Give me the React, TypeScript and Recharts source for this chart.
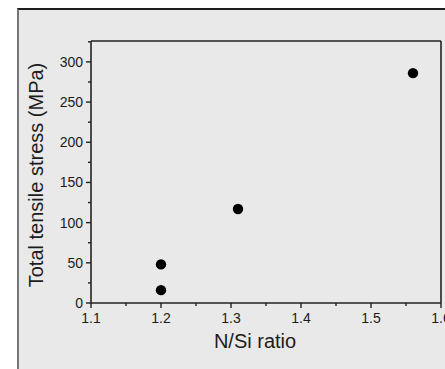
import { Label, Scatter, ScatterChart, XAxis, YAxis } from "recharts";

const xMajor = [1.1, 1.2, 1.3, 1.4, 1.5, 1.6];
const xMinor = [1.15, 1.25, 1.35, 1.45, 1.55];
const yMajor = [0, 50, 100, 150, 200, 250, 300];
const yMinor = [25, 75, 125, 175, 225, 275, 325];

const ratio = [1.2, 1.2, 1.31, 1.56];
const stress = [48, 16, 117, 286];

const points = ratio.map((x, i) => ({ x, y: stress[i] }));
const xTicks = [...xMajor, ...xMinor].sort((a, b) => a - b);
const yTicks = [...yMajor, ...yMinor].sort((a, b) => a - b);

const font = '"Liberation Sans", Arial, sans-serif';
const ink = "#1c1c1c";
const axisLine = { stroke: "#222", strokeWidth: 1.6 };

type Side = "bottom" | "top" | "left" | "right";

// ticks drawn by hand so majors/minors get different lengths; labels only on bottom/left
function makeTick(side: Side) {
  return (props: any) => {
    const { x, y, payload } = props;
    const v = payload.value;
    const major = side === "left" || side === "right" ? yMajor.includes(v) : xMajor.includes(v);
    const len = major ? 5 : 3;
    if (side === "bottom") {
      return (
        <g>
          <line x1={x} y1={y} x2={x} y2={y + len} stroke="#222" strokeWidth={1.4} />
          {major && (
            <text x={x} y={y + 20} textAnchor="middle" fontSize={14} fontFamily={font} fill={ink}>
              {String(v)}
            </text>
          )}
        </g>
      );
    }
    if (side === "top") {
      return <line x1={x} y1={y} x2={x} y2={y + len} stroke="#222" strokeWidth={1.4} />;
    }
    if (side === "left") {
      return (
        <g>
          <line x1={x} y1={y} x2={x - len} y2={y} stroke="#222" strokeWidth={1.4} />
          {major && (
            <text x={x - 8} y={y + 5} textAnchor="end" fontSize={14} fontFamily={font} fill={ink}>
              {String(v)}
            </text>
          )}
        </g>
      );
    }
    return <line x1={x} y1={y} x2={x - len} y2={y} stroke="#222" strokeWidth={1.4} />;
  };
}

const Dot = (props: any) => <circle cx={props.cx} cy={props.cy} r={5.2} fill="#000" />;

export default function App() {
  return (
    <div
      style={{
        position: "absolute",
        left: 0,
        top: 0,
        width: 445,
        height: 369,
        background: "#fff",
        overflow: "hidden",
      }}
    >
      <div
        style={{
          position: "absolute",
          left: 17,
          top: 8,
          right: -10,
          bottom: -10,
          background: "#e8e9e8",
          borderLeft: "2px solid #777",
          borderTop: "2px solid #1e1e1e",
        }}
      />
      <div style={{ position: "absolute", left: 0, top: 0 }}>
        <ScatterChart width={445} height={369} margin={{ top: 40, right: 0, bottom: 26, left: 0 }}>
          <XAxis
            xAxisId="b"
            dataKey="x"
            type="number"
            domain={[1.1, 1.6]}
            ticks={xTicks}
            interval={0}
            height={40}
            tickSize={0}
            tickMargin={0}
            tickLine={false}
            axisLine={axisLine}
            tick={makeTick("bottom")}
          >
            <Label
              content={(p: any) => (
                <text
                  x={p.viewBox.x + p.viewBox.width / 2 - 11}
                  y={p.viewBox.y + 45}
                  textAnchor="middle"
                  fontSize={20}
                  fontFamily={font}
                  fill={ink}
                >
                  N/Si ratio
                </text>
              )}
            />
          </XAxis>
          <XAxis
            xAxisId="t"
            orientation="top"
            type="number"
            domain={[1.1, 1.6]}
            ticks={xTicks}
            interval={0}
            height={1}
            tickSize={0}
            tickMargin={0}
            tickLine={false}
            axisLine={axisLine}
            tick={makeTick("top")}
          />
          <YAxis
            yAxisId="l"
            dataKey="y"
            type="number"
            domain={[0, 326]}
            ticks={yTicks}
            interval={0}
            width={91}
            tickSize={0}
            tickMargin={0}
            tickLine={false}
            axisLine={axisLine}
            tick={makeTick("left")}
          >
            <Label
              content={(p: any) => {
                const cx = p.viewBox.x + 36;
                const cy = p.viewBox.y + p.viewBox.height / 2 + 3;
                return (
                  <text
                    x={cx}
                    y={cy}
                    transform={`rotate(-90, ${cx}, ${cy})`}
                    textAnchor="middle"
                    dominantBaseline="central"
                    fontSize={20}
                    fontFamily={font}
                    fill={ink}
                  >
                    Total tensile stress (MPa)
                  </text>
                );
              }}
            />
          </YAxis>
          <YAxis
            yAxisId="r"
            orientation="right"
            type="number"
            domain={[0, 326]}
            ticks={yTicks}
            interval={0}
            width={4}
            tickSize={0}
            tickMargin={0}
            tickLine={false}
            axisLine={axisLine}
            tick={makeTick("right")}
          />
          <Scatter
            data={points}
            xAxisId="b"
            yAxisId="l"
            shape={Dot}
            isAnimationActive={false}
          />
        </ScatterChart>
      </div>
    </div>
  );
}
